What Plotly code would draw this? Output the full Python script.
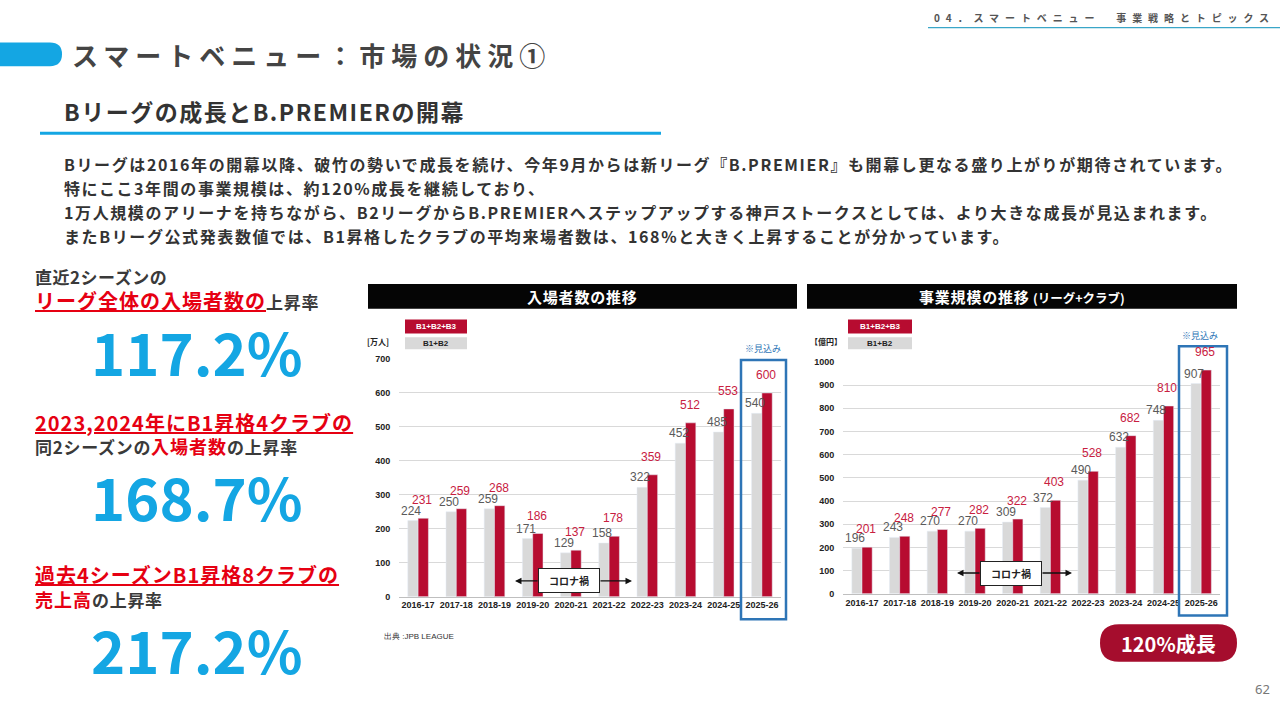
import plotly.graph_objects as go

# ---- data ----
seasons = ['2016-17', '2017-18', '2018-19', '2019-20', '2020-21',
           '2021-22', '2022-23', '2023-24', '2024-25', '2025-26']

# 入場者数 [万人]
attend_b1b2 = [224, 250, 259, 171, 129, 158, 322, 452, 485, 540]
attend_b1b2b3 = [231, 259, 268, 186, 137, 178, 359, 512, 553, 600]

# 事業規模 [億円]
revenue_b1b2 = [196, 243, 270, 270, 309, 372, 490, 632, 748, 907]
revenue_b1b2b3 = [201, 248, 277, 282, 322, 403, 528, 682, 810, 965]

W, H = 1280, 720
JP = 'Noto Sans CJK JP'
NUM = 'Liberation Sans, Arial'
RED_BAR = '#B70C30'
RED_TXT = '#C8203F'
GRAY_BAR = '#D9D9D9'
GRAY_TXT = '#5A5A5A'
BLUE = '#14A6E3'
BOX_BLUE = '#2E75B6'
RED = '#E60012'
DARK = '#3A3A3A'


def px(x):
    return x / W


def py(y):
    return 1 - y / H


def spaced(t, ls):
    return "<span style='letter-spacing:%spx'>%s</span>" % (ls, t)


fig = go.Figure()

# bars: gray first so it sits on the left of each pair
fig.add_trace(go.Bar(x=seasons, y=attend_b1b2, marker_color=GRAY_BAR, xaxis='x', yaxis='y'))
fig.add_trace(go.Bar(x=seasons, y=attend_b1b2b3, marker_color=RED_BAR, xaxis='x', yaxis='y'))
fig.add_trace(go.Bar(x=seasons, y=revenue_b1b2, marker_color=GRAY_BAR, xaxis='x2', yaxis='y2'))
fig.add_trace(go.Bar(x=seasons, y=revenue_b1b2b3, marker_color=RED_BAR, xaxis='x2', yaxis='y2'))

annotations = []
shapes = []

# value labels over the bars
for xa, ya, gray_vals, red_vals in [('x', 'y', attend_b1b2, attend_b1b2b3),
                                    ('x2', 'y2', revenue_b1b2, revenue_b1b2b3)]:
    for s, g, r in zip(seasons, gray_vals, red_vals):
        annotations.append(dict(x=s, y=g, xref=xa, yref=ya, text=str(g), showarrow=False,
                                xshift=-7, yshift=1, yanchor='bottom',
                                font=dict(family=NUM, size=12, color=GRAY_TXT)))
        annotations.append(dict(x=s, y=r, xref=xa, yref=ya, text=str(r), showarrow=False,
                                xshift=4, yshift=9, yanchor='bottom',
                                font=dict(family=NUM, size=12, color=RED_TXT)))


def text(x, y, t, size, color=DARK, anchor='left', bold=True, family=JP, yanchor='middle'):
    annotations.append(dict(x=px(x), y=py(y), xref='paper', yref='paper', text=('<b>%s</b>' % t) if bold else t,
                            showarrow=False, xanchor=anchor, yanchor=yanchor,
                            font=dict(family=family, size=size, color=color)))


def rect(x0, y0, x1, y1, fill=None, line=None, lw=0):
    shapes.append(dict(type='rect', xref='paper', yref='paper', x0=px(x0), x1=px(x1), y0=py(y0), y1=py(y1),
                       fillcolor=fill, line=dict(color=line or 'rgba(0,0,0,0)', width=lw), layer='below' if fill else 'above'))


def pill(x0, y0, x1, y1, r, fill):
    ym = (y0 + y1) / 2
    path = 'M %f,%f Q %f,%f %f,%f Q %f,%f %f,%f' % (px(x0 + r), py(y1), px(x0), py(y1), px(x0), py(ym),
                                                    px(x0), py(y0), px(x0 + r), py(y0))
    path += ' L %f,%f Q %f,%f %f,%f Q %f,%f %f,%f Z' % (
        px(x1 - r), py(y0), px(x1), py(y0), px(x1), py(ym), px(x1), py(y1), px(x1 - r), py(y1))
    shapes.append(dict(type='path', xref='paper', yref='paper', path=path, fillcolor=fill,
                       line=dict(width=0)))


# ---- header ----
pill(-20, 38, 62, 62, 12, BLUE)
text(70, 50, spaced('スマートベニュー：市場の状況①', 6), 26, '#444444')
text(932, 13, spaced('04．スマートベニュー　事業戦略とトピックス', 5.9), 10, '#555555')
shapes.append(dict(type='line', xref='paper', yref='paper', x0=px(928), x1=px(1280), y0=py(23), y1=py(23),
                   line=dict(color='#3AA6C8', width=1.2)))
text(62, 107, spaced('Bリーグの成長とB.PREMIERの開幕', 1.5), 23, '#333333')
shapes.append(dict(type='line', xref='paper', yref='paper', x0=px(40), x1=px(661), y0=py(130), y1=py(130),
                   line=dict(color=BLUE, width=3)))

para = ['Bリーグは2016年の開幕以降、破竹の勢いで成長を続け、今年9月からは新リーグ『B.PREMIER』も開幕し更なる盛り上がりが期待されています。',
        '特にここ3年間の事業規模は、約120%成長を継続しており、',
        '1万人規模のアリーナを持ちながら、B2リーグからB.PREMIERへステップアップする神戸ストークスとしては、より大きな成長が見込まれます。',
        'またBリーグ公式発表数値では、B1昇格したクラブの平均来場者数は、168%と大きく上昇することが分かっています。']
for i, line in enumerate(para):
    text(62, 161 + i * 24.5, spaced(line, 1.6), 16, '#333333')

# ---- left panel ----
def red(t, size, underline=True):
    inner = '<u>%s</u>' % t if underline else t
    return "<span style='color:%s;font-size:%spx;letter-spacing:1px'>%s</span>" % (RED, size, inner)


text(33, 275, spaced('直近2シーズンの', 0.5), 17)
text(33, 300, red('リーグ全体の入場者数の', 20) + spaced('上昇率', 0.7), 17)
text(197, 351, '117.2%', 58, BLUE, anchor='center')
text(33, 423, red('2023,2024年にB1昇格4クラブの', 20), 17)
text(33, 447, spaced('同2シーズンの', 0.7) + red('入場者数', 18, False) + spaced('の上昇率', 0.7), 17)
text(197, 498, '168.7%', 58, BLUE, anchor='center')
text(33, 578, red('過去4シーズンB1昇格8クラブの', 20), 17)
text(33, 602, red('売上高', 18, False) + spaced('の上昇率', 0.7), 17)
text(197, 653, '217.2%', 58, BLUE, anchor='center')

# ---- chart decorations ----
charts = [dict(bar=(368, 797), title=spaced('入場者数の推移', 0.8), unit='[万人]', unit_x=378,
               leg_x=(405, 467), box=(741, 360, 786, 623), est=(763, 348),
               arrow=(515, 632, 584), corona=(569, 584)),
          dict(bar=(807, 1237),
               title=spaced('事業規模の推移', 0.8) + " <span style='font-size:12.5px'>(リーグ+クラブ)</span>",
               unit='【億円】', unit_x=826, leg_x=(848, 912), box=(1179, 346, 1227, 619), est=(1200, 335),
               arrow=(957, 1072, 576), corona=(1011, 577))]
for c in charts:
    rect(c['bar'][0], 283, c['bar'][1], 308, fill='#050505')
    text((c['bar'][0] + c['bar'][1]) / 2, 296, c['title'], 15, 'white', anchor='center')
    text(c['unit_x'], 341, c['unit'], 8, '#222222', anchor='center')
    lx0, lx1 = c['leg_x']
    rect(lx0, 319, lx1, 333, fill=RED_BAR)
    text((lx0 + lx1) / 2, 326, 'B1+B2+B3', 8, 'white', anchor='center', family=NUM)
    rect(lx0, 337, lx1, 349, fill=GRAY_BAR)
    text((lx0 + lx1) / 2, 343, 'B1+B2', 8, '#222222', anchor='center', family=NUM)
    bx0, by0, bx1, by1 = c['box']
    rect(bx0, by0, bx1, by1, line=BOX_BLUE, lw=2.5)
    text(c['est'][0], c['est'][1], '※見込み', 9, BOX_BLUE, anchor='center', bold=False)
    a0, a1, ay = c['arrow']
    cx, cy = c['corona']
    for tip, tail in [(a0, cx - 30), (a1, cx + 30)]:
        annotations.append(dict(x=px(tip), y=py(ay), xref='paper', yref='paper', text='', showarrow=True,
                                ax=tail - tip, ay=0, axref='pixel', ayref='pixel', arrowhead=2,
                                arrowsize=1, arrowwidth=1.3, arrowcolor='#111111'))
    annotations.append(dict(x=px(cx), y=py(cy), xref='paper', yref='paper', text='<b>コロナ禍</b>',
                            xanchor='center', yanchor='middle',
                            showarrow=False, bgcolor='white', bordercolor='#222222', borderwidth=1,
                            width=52, borderpad=4, font=dict(family=JP, size=10, color='#222222')))

text(382, 640, '出典 :JPB LEAGUE', 8, '#333333', bold=False, family=NUM)
pill(1100, 628, 1237, 666, 19, '#A50D2D')
text(1168, 647, '120%成長', 20, 'white', anchor='center')
text(1262, 694, '62', 13, '#777777', anchor='center', bold=False, family='Noto Sans')

axis_x = dict(type='category', showgrid=False, showline=True, linecolor='#BFBFBF', ticks='',
              tickfont=dict(family=NUM, size=9, color='#222222'), tickprefix='<b>', ticksuffix='</b>')
axis_y = dict(showgrid=True, gridcolor='#D9D9D9', gridwidth=1, zeroline=False, showline=False, dtick=100,
              ticks='outside', ticklen=6, tickcolor='rgba(0,0,0,0)',
              tickfont=dict(family=NUM, size=9, color='#222222'), tickprefix='<b>', ticksuffix='</b>')

fig.update_layout(
    width=W, height=H, margin=dict(l=0, r=0, t=0, b=0),
    paper_bgcolor='white', plot_bgcolor='white', showlegend=False,
    barmode='group', bargap=0.46, bargroupgap=0,
    font=dict(family=JP),
    xaxis=dict(axis_x, domain=[px(399), px(781)], anchor='y'),
    yaxis=dict(axis_y, domain=[py(600), py(359)], range=[0, 700], anchor='x'),
    xaxis2=dict(axis_x, domain=[px(843), px(1220)], anchor='y2'),
    yaxis2=dict(axis_y, domain=[py(597), py(362)], range=[0, 1000], anchor='x2'),
    annotations=annotations, shapes=shapes,
)

fig.write_html('out.html', config=dict(displayModeBar=False),
               post_script="document.body.style.margin='0';document.body.style.overflow='hidden';")
